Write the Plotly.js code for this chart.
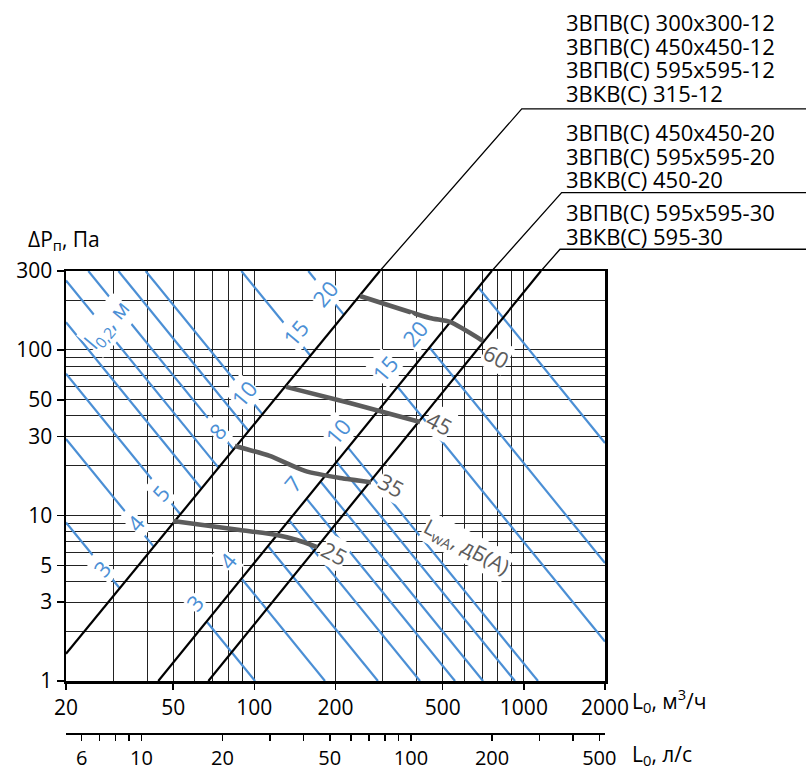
<!DOCTYPE html>
<html><head><meta charset="utf-8">
<script src="https://cdn.plot.ly/plotly-3.0.1.min.js"></script>
<style>html,body{margin:0;padding:0;background:#fff}#chart{width:806px;height:769px}</style>
</head><body><div id="chart"></div>
<script>
// ---------- data ----------
const flowTicks = [20, 50, 100, 200, 500, 1000, 2000];
const flowGridMinor = [30, 40, 60, 70, 80, 90, 300, 400, 600, 700, 800, 900];
const pressTicks = [1, 3, 5, 10, 30, 50, 100, 300];
const pressGridMinor = [2, 4, 6, 7, 8, 9, 20, 40, 60, 70, 80, 90, 200];
const lpsTicks = [6, 10, 20, 50, 100, 200, 500];
const lpsMinorTicks = [7, 8, 9, 30, 40, 60, 70, 80, 90, 300, 400];
const lpsRange = [5.25, 525];

// device characteristic lines (black)
const devStartL = [20, 44, 67.5];
const devStartP = [1.46, 1, 1];
const devTopL = [292, 760, 1157];
const devTopP = [300, 300, 300];
const devLeadL = [982, 1381, 1362];
const devLeadP = [2860, 892, 406];
const leadEndL = 11200;
const devNames = [
  '3ВПВ(С) 300х300-12', '3ВПВ(С) 450х450-12', '3ВПВ(С) 595х595-12', '3ВКВ(С) 315-12',
  '3ВПВ(С) 450х450-20', '3ВПВ(С) 595х595-20', '3ВКВ(С) 450-20',
  '3ВПВ(С) 595х595-30', '3ВКВ(С) 595-30'
];

// throw length l0.2 lines, group 1 (edge -> device line 1)
const g1Throw = [3, 4, 5, 6, 7, 8, 9, 10, 15, 20];
const g1StartL = [20, 20, 20, 20, 20, 24.2, 31.3, 39.5, 89.5, 158.5];
const g1StartP = [9.08, 29.0, 71.8, 147, 263, 300, 300, 300, 300, 300];
const g1EndL = [31.7, 42.4, 53.2, 63.7, 73.7, 83.8, 95.3, 107.2, 161.6, 215];
const g1EndP = [3.62, 6.46, 10.14, 14.5, 19.4, 25.0, 32.3, 40.8, 92.2, 163];
const g1LabText = ['3', '4', '5', '8', '10', '15', '20'];
const g1LabL = [27.2, 36.1, 44.7, 72.7, 91.5, 141.5, 182.8];
const g1LabP = [4.82, 9.01, 13.7, 32.4, 55.0, 126.7, 221];

// throw length lines, group 2 (device line 2 -> edge)
const g2Throw = [3, 4, 5, 6, 7, 8, 9, 10, 15, 20, 30];
const g2StartL = [66.6, 89.7, 112.5, 134.7, 156.4, 176.3, 202.1, 223, 340.4, 447.5, 679.2];
const g2StartP = [2.28, 4.15, 6.52, 9.34, 12.6, 16.0, 21.0, 25.6, 59.7, 103.2, 237.7];
const g2EndL = [100.6, 182.8, 287.4, 411.7, 555.3, 705.6, 926.8, 1128, 2000, 2000, 2000];
const g2EndP = [1, 1, 1, 1, 1, 1, 1, 1, 1.73, 5.16, 27.4];
const g2LabText = ['3', '4', '7', '10', '15', '20'];
const g2LabL = [60.2, 79.8, 139, 204, 305, 394];
const g2LabP = [3.0, 5.38, 15.7, 32.4, 77.9, 126.7];

// sound power level lines (grey)
const n25L = [49.9, 88.4, 121, 144, 171];
const n25P = [9.26, 8.17, 7.62, 7.11, 6.45];
const n35L = [84.7, 114, 154, 208, 271];
const n35P = [26.3, 22.9, 18.6, 16.85, 15.9];
const n45L = [131, 226, 412];
const n45P = [59.8, 47.8, 36.7];
const n60L = [246.6, 448, 532, 705];
const n60P = [211.9, 156, 147.6, 113.3];
const noiseLabText = ['60', '45', '35', '25'];
const noiseLabL = [794, 488, 324, 199];
const noiseLabP = [92, 36.2, 15.3, 5.93];

// ---------- layout geometry ----------
const W = 806, H = 769;
const FONT = '"Open Sans", "Noto Sans", sans-serif';
const BLUE = '#4b8fd5', GREY = '#5c5c5c';
const xDom = [66 / W, 605 / W];
const yDom = [(H - 681) / H, (H - 271) / H];
const lg = Math.log10;
const xR = [lg(20), lg(2000)], yR = [lg(1), lg(300)];
function fullRange(r, d) {
  const k = (r[1] - r[0]) / (d[1] - d[0]);
  return [r[0] - d[0] * k, r[0] + (1 - d[0]) * k];
}

function segs(x0, y0, x1, y1) {
  const xs = [], ys = [];
  for (let i = 0; i < x0.length; i++) { xs.push(x0[i], x1[i], null); ys.push(y0[i], y1[i], null); }
  return {x: xs, y: ys};
}

const traces = [];
const s1 = segs(g1StartL, g1StartP, g1EndL, g1EndP);
traces.push({type: 'scatter', mode: 'lines', x: s1.x, y: s1.y, line: {color: BLUE, width: 2.2}, hoverinfo: 'skip'});
const s2 = segs(g2StartL, g2StartP, g2EndL, g2EndP);
traces.push({type: 'scatter', mode: 'lines', x: s2.x, y: s2.y, line: {color: BLUE, width: 2.2}, hoverinfo: 'skip'});
const sd = segs(devStartL, devStartP, devTopL, devTopP);
traces.push({type: 'scatter', mode: 'lines', x: sd.x, y: sd.y, line: {color: '#000', width: 2.2}, hoverinfo: 'skip'});
[[n25L, n25P], [n35L, n35P], [n45L, n45P], [n60L, n60P]].forEach(function (n) {
  traces.push({type: 'scatter', mode: 'lines', x: n[0], y: n[1], line: {color: GREY, width: 4.5, shape: 'spline', smoothing: 0.6}, hoverinfo: 'skip'});
});
// leaders outside the plot area, on full-figure axes with the same scale
const lx = [], ly = [];
for (let i = 0; i < devTopL.length; i++) {
  lx.push(devTopL[i], devLeadL[i], leadEndL, null);
  ly.push(devTopP[i], devLeadP[i], devLeadP[i], null);
}
traces.push({type: 'scatter', mode: 'lines', x: lx, y: ly, xaxis: 'x2', yaxis: 'y2', line: {color: '#000', width: 1.3}, hoverinfo: 'skip'});
// anchor trace for the l/s axis
traces.push({type: 'scatter', mode: 'markers', x: [50], y: [10], xaxis: 'x3', yaxis: 'y', marker: {opacity: 0}, hoverinfo: 'skip'});

const ann = [];
function dataLab(t, L, P, color, angle, size) {
  ann.push({xref: 'x', yref: 'y', x: lg(L), y: lg(P), text: t, showarrow: false, textangle: angle,
    font: {family: FONT, size: size, color: color}, bgcolor: '#fff', borderpad: 0});
}
g1LabText.forEach((t, i) => dataLab(t, g1LabL[i], g1LabP[i], BLUE, -50, 22));
g2LabText.forEach((t, i) => dataLab(t, g2LabL[i], g2LabP[i], BLUE, -50, 22));
noiseLabText.forEach((t, i) => dataLab(t, noiseLabL[i], noiseLabP[i], GREY, 28, 22));
dataLab('l<sub>0,2</sub>, м', 28.6, 141.6, BLUE, -50, 22);
dataLab('L<sub>wA</sub>, дБ(А)', 610, 6.45, GREY, 28, 21);

const devLabY = [22, 46, 69, 93, 132, 156, 179, 212, 236];
devNames.forEach(function (t, i) {
  ann.push({xref: 'paper', yref: 'paper', x: 564 / W, y: 1 - devLabY[i] / H, xanchor: 'left', yanchor: 'middle',
    text: t, showarrow: false, font: {family: FONT, size: 22, color: '#000'}});
});
function paperLab(t, px, py) {
  ann.push({xref: 'paper', yref: 'paper', x: px / W, y: 1 - py / H, xanchor: 'left', yanchor: 'middle',
    text: t, showarrow: false, font: {family: FONT, size: 21, color: '#000'}});
}
paperLab('ΔP<sub>п</sub>, Па', 26, 240);
paperLab('L<sub>0</sub>, м<sup>3</sup>/ч', 630, 700);
paperLab('L<sub>0</sub>, л/с', 630, 755);

const layout = {
  width: W, height: H, margin: {l: 0, r: 0, t: 0, b: 0},
  paper_bgcolor: '#fff', plot_bgcolor: 'rgba(0,0,0,0)', showlegend: false,
  font: {family: FONT, size: 21, color: '#000'},
  xaxis: {type: 'log', domain: xDom, range: xR, anchor: 'y', tickmode: 'array',
    tickvals: flowTicks, ticktext: flowTicks.map(String), ticks: 'outside', ticklen: 6, tickwidth: 1.5,
    tickcolor: '#000', showline: true, linewidth: 2.5, linecolor: '#000', mirror: true, zeroline: false,
    showgrid: true, gridcolor: '#222', gridwidth: 1,
    minor: {tickmode: 'array', tickvals: flowGridMinor, showgrid: true, gridcolor: '#222', gridwidth: 1, ticks: ''},
    tickfont: {size: 21}},
  yaxis: {type: 'log', domain: yDom, range: yR, anchor: 'x', tickmode: 'array',
    tickvals: pressTicks, ticktext: pressTicks.map(String), ticks: 'outside', ticklen: 7, tickwidth: 1.5,
    tickcolor: '#000', showline: true, linewidth: 2.5, linecolor: '#000', mirror: true, zeroline: false,
    showgrid: true, gridcolor: '#222', gridwidth: 1,
    minor: {tickmode: 'array', tickvals: pressGridMinor, showgrid: true, gridcolor: '#222', gridwidth: 1, ticks: ''},
    tickfont: {size: 21}},
  xaxis2: {type: 'log', domain: [0, 1], range: fullRange(xR, xDom), anchor: 'y2', visible: false},
  yaxis2: {type: 'log', domain: [0, 1], range: fullRange(yR, yDom), anchor: 'x2', visible: false},
  xaxis3: {type: 'log', overlaying: 'x', anchor: 'free', position: (H - 733) / H, side: 'bottom',
    range: [lg(lpsRange[0]), lg(lpsRange[1])], tickmode: 'array', tickvals: lpsTicks, ticktext: lpsTicks.map(String),
    ticks: 'outside', ticklen: 6, tickwidth: 1.5, tickcolor: '#000', showline: true, linewidth: 1.5,
    linecolor: '#000', showgrid: false, zeroline: false, tickfont: {size: 20},
    minor: {tickmode: 'array', tickvals: lpsMinorTicks, ticks: 'outside', ticklen: 6, tickwidth: 1.5, tickcolor: '#000', showgrid: false}},
  annotations: ann
};
Plotly.newPlot('chart', traces, layout, {staticPlot: true, displayModeBar: false});
</script></body></html>
